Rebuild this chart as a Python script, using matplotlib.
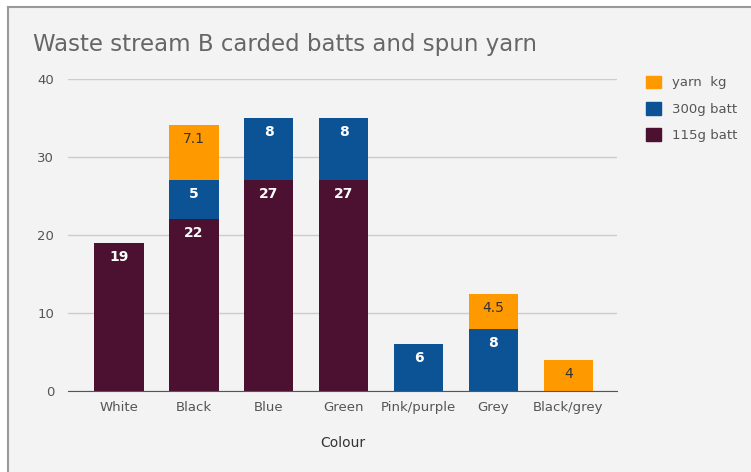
import matplotlib.pyplot as plt
from matplotlib.patches import Rectangle, Patch
from matplotlib.lines import Line2D
import numpy as np

# chart data
colours = ["White", "Black", "Blue", "Green", "Pink/purple", "Grey", "Black/grey"]
batt_115g = [19, 22, 27, 27, 0, 0, 0]
batt_300g = [0, 5, 8, 8, 6, 8, 0]
yarn_kg = [0, 7.1, 0, 0, 0, 4.5, 4]
y_ticks = [0, 10, 20, 30, 40]

maroon = "#4c1130"
blue = "#0b5394"
orange = "#ff9900"
bg = "#f3f3f3"

fig = plt.figure(figsize=(7.51, 4.72), dpi=100, facecolor="white")

# grey chart panel, cut off at the right and bottom, with a frame on top and left only
x0, y1 = 8 / 751, 1 - 7 / 472
fig.patches.append(Rectangle((x0, 0), 1 - x0, y1, transform=fig.transFigure,
                             facecolor=bg, edgecolor="none", zorder=-2))
fig.lines.append(Line2D([x0, 1], [y1, y1], transform=fig.transFigure,
                        color="#9a9a9a", linewidth=1.5, zorder=-1))
fig.lines.append(Line2D([x0, x0], [0, y1], transform=fig.transFigure,
                        color="#9a9a9a", linewidth=1.5, zorder=-1))

ax = fig.add_axes([0.0905, 0.1716, 0.731, 0.661], facecolor=bg)

x = np.arange(len(colours))
w = 0.66
b1 = np.array(batt_115g, dtype=float)
b2 = np.array(batt_300g, dtype=float)
b3 = np.array(yarn_kg, dtype=float)

ax.bar(x, b1, w, color=maroon, zorder=3)
ax.bar(x, b2, w, bottom=b1, color=blue, zorder=3)
ax.bar(x, b3, w, bottom=b1 + b2, color=orange, zorder=3)

# value labels near the top of each segment
for i in range(len(colours)):
    base = 0
    for vals, col in ((b1, "white"), (b2, "white"), (b3, "#333333")):
        v = vals[i]
        if v > 0:
            top = base + v
            ax.text(x[i], top - 1.8, f"{v:g}", ha="center", va="center",
                    color=col, fontsize=10, fontweight="bold" if col == "white" else "normal",
                    zorder=4)
            base = top

ax.set_xlim(-0.68, 6.65)
ax.set_ylim(0, 40)
ax.set_yticks(y_ticks)
ax.set_xticks(x)
ax.set_xticklabels(colours)
ax.grid(axis="y", color="#cccccc", linewidth=1, zorder=0)
for s in ["top", "right", "left"]:
    ax.spines[s].set_visible(False)
ax.spines["bottom"].set_color("#555555")
ax.spines["bottom"].set_zorder(5)
ax.tick_params(axis="both", length=0, colors="#555555", labelsize=9.5)
ax.tick_params(axis="y", pad=10)
ax.tick_params(axis="x", pad=7)

ax.set_xlabel("Colour", fontsize=10, color="#333333", labelpad=16)

fig.text(0.044, 0.905, "Waste stream B carded batts and spun yarn",
         fontsize=16.5, color="#666666", ha="left", va="center")

handles = [Patch(color=orange, label="yarn  kg"),
           Patch(color=blue, label="300g batt"),
           Patch(color=maroon, label="115g batt")]
fig.legend(handles=handles, loc="upper left", bbox_to_anchor=(0.845, 0.865),
           frameon=False, fontsize=9.5, labelcolor="#555555",
           handlelength=1.1, handleheight=1.1, labelspacing=0.95, handletextpad=0.8)

plt.savefig("out.png", dpi=100, facecolor="white")
